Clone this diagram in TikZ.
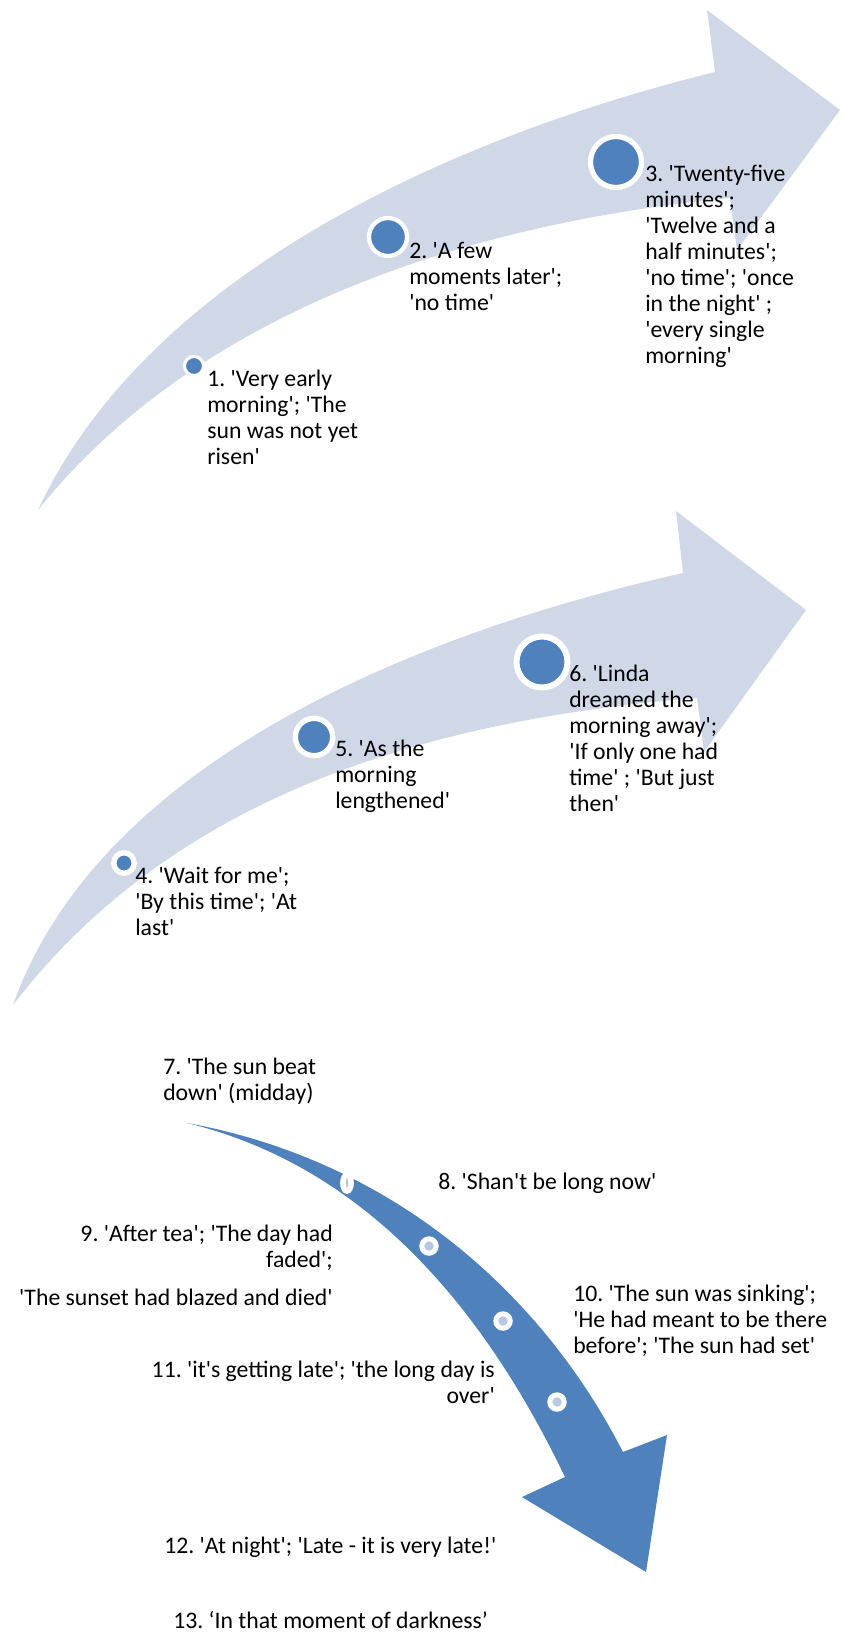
\documentclass[tikz,border=0pt]{standalone}
\usepackage{fontspec}
\setmainfont{Carlito}[Ligatures=TeXOff]
\usetikzlibrary{shapes.geometric}
\definecolor{arrowpale}{RGB}{208,216,232}
\definecolor{arrowblue}{RGB}{79,129,189}
\definecolor{dotpale}{RGB}{185,200,226}
\frenchspacing

\tikzset{
  stagetext/.style={font=\fontsize{17.8pt}{19.5pt}\selectfont, inner sep=0pt, anchor=north west, align=left},
  stagetextr/.style={stagetext, anchor=north east, align=right},
  bigdot/.style={circle, fill=arrowblue, draw=white, inner sep=0pt},
  ringdot/.style={circle, fill=dotpale, draw=white, inner sep=0pt, line width=3.75pt, minimum size=10.8pt}
}

\begin{document}
\begin{tikzpicture}[x=0.75pt, y=-0.75pt]
    \useasboundingbox (0,0) rectangle (842,1634);

    % morning arrows
    \fill[arrowpale] (38,510) .. controls (150,270) and (460,135) .. (715,72)
        -- (707,10) -- (840,110) -- (737,250) -- (730,198)
        .. controls (450,225) and (190,320) .. (38,510) -- cycle;
    \fill[arrowpale] (13,1005) .. controls (100,760) and (420,632) .. (683,573)
        -- (676,511) -- (806,610) -- (704,752) -- (697,698)
        .. controls (420,720) and (170,800) .. (13,1005) -- cycle;

    % afternoon and night arrow
    \fill[arrowblue] (187,1123) .. controls (390,1160) and (540,1290) .. (623,1452)
        -- (667,1435) -- (646,1572) -- (522,1497) -- (565,1477)
        .. controls (480,1300) and (360,1165) .. (187,1123) -- cycle;

    \node[bigdot, minimum size=14.25pt, line width=2.25pt] (d1) at (194,366) {};
    \node[bigdot, minimum size=28.5pt, line width=3.2pt] (d2) at (388,237) {};
    \node[bigdot, minimum size=38.25pt, line width=3.9pt] (d3) at (616,162) {};
    \node[bigdot, minimum size=15.3pt, line width=4pt] (d4) at (124,863) {};
    \node[bigdot, minimum size=28pt, line width=4pt] (d5) at (314,737) {};
    \node[bigdot, minimum size=38.25pt, line width=4.5pt] (d6) at (542,662) {};

    \node[ellipse, fill=dotpale, draw=white, inner sep=0pt, line width=4.1pt,
        minimum width=6.2pt, minimum height=12.2pt] (m1) at (347,1183) {};
    \node[ringdot] (m2) at (429,1246) {};
    \node[ringdot] (m3) at (503,1321) {};
    \node[ringdot] (m4) at (557,1402) {};

    \node[stagetext] (s1) at (207,370) {1. 'Very early\\morning'; 'The\\sun was not yet\\risen'};
    \node[stagetext] (s2) at (409,242) {2. 'A few\\moments later';\\'no time'};
    \node[stagetext] (s3) at (645,165) {3. 'Twenty-five\\minutes';\\'Twelve and a\\half minutes';\\'no time'; 'once\\in the night' ;\\'every single\\morning'};
    \node[stagetext] (s4) at (135,867) {4. 'Wait for me';\\'By this time'; 'At\\last'};
    \node[stagetext] (s5) at (335,740) {5. 'As the\\morning\\lengthened'};
    \node[stagetext] (s6) at (569,665) {6. 'Linda\\dreamed the\\morning away';\\'If only one had\\time' ; 'But just\\then'};
    \node[stagetext] (s7) at (163,1058) {7. 'The sun beat\\down' (midday)};
    \node[stagetext] (s8) at (438,1173) {8. 'Shan't be long now'};
    \node[stagetextr] (s9) at (333,1225) {9. 'After tea'; 'The day had\\faded';\\[9pt]'The sunset had blazed and died'};
    \node[stagetext] (s10) at (573,1285) {10. 'The sun was sinking';\\'He had meant to be there\\before'; 'The sun had set'};
    \node[stagetextr] (s11) at (495,1361) {11. 'it's getting late'; 'the long day is\\over'};
    \node[stagetext] (s12) at (164,1537) {12. 'At night'; 'Late - it is very late!'};
    \node[stagetext] (s13) at (173,1611) {13. ‘In that moment of darkness’};
\end{tikzpicture}
\end{document}
